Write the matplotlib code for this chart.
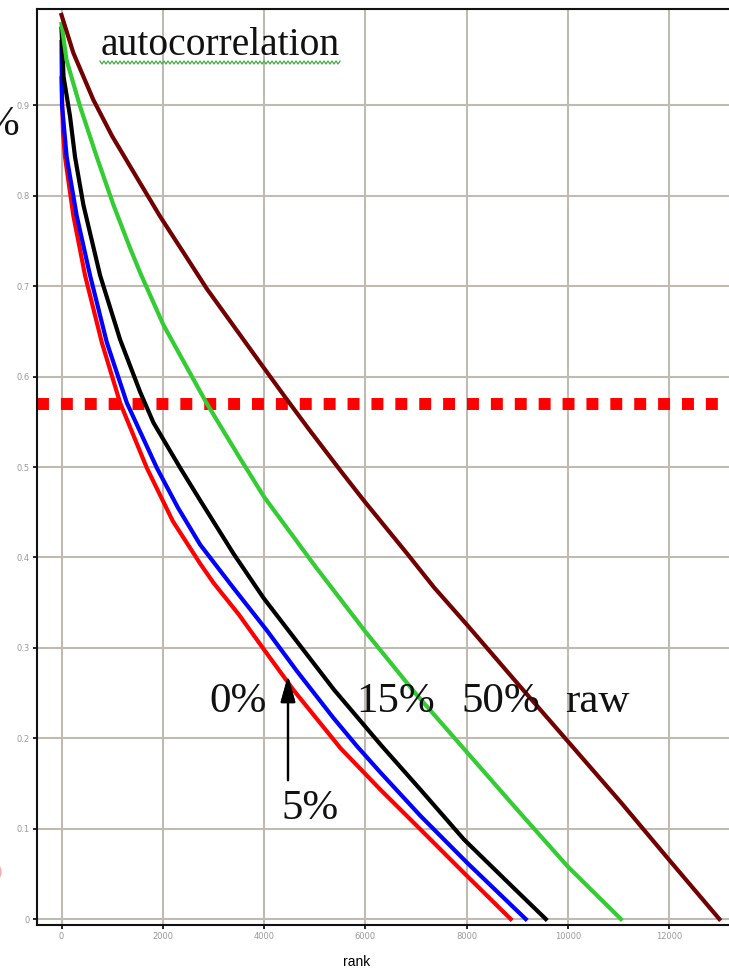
import matplotlib
matplotlib.use('Agg')
import matplotlib.pyplot as plt
from matplotlib.lines import Line2D
from matplotlib.patches import Ellipse
import numpy as np

# curves: rank vs value, one per autocorrelation level
rank_0 = [0, 30, 69, 234, 465, 795, 1157, 1685, 2200, 2740, 3000, 3500, 4000, 4586, 5510, 6301, 7092, 7949, 8872]
val_0 = [0.93, 0.87, 0.843, 0.778, 0.712, 0.638, 0.571, 0.499, 0.44, 0.393, 0.372, 0.337, 0.298, 0.253, 0.189, 0.143, 0.099, 0.051, 0.0]

rank_5 = [0, 10, 102, 300, 564, 894, 1290, 1883, 2300, 2740, 3399, 4059, 4653, 5377, 5839, 6301, 7092, 8016, 9169]
val_5 = [0.97, 0.90, 0.843, 0.778, 0.712, 0.638, 0.571, 0.499, 0.455, 0.414, 0.366, 0.319, 0.274, 0.222, 0.191, 0.162, 0.114, 0.062, 0.0]

rank_15 = [0, 40, 168, 267, 432, 762, 1157, 1553, 1816, 2344, 2740, 3399, 3992, 4718, 5377, 6301, 7092, 7949, 8938, 9565]
val_15 = [0.985, 0.932, 0.888, 0.843, 0.790, 0.712, 0.641, 0.583, 0.549, 0.499, 0.463, 0.404, 0.355, 0.302, 0.254, 0.193, 0.143, 0.088, 0.034, 0.0]

rank_50 = [0, 100, 366, 696, 1025, 1355, 1553, 2014, 2872, 3500, 4000, 5000, 6000, 7000, 8000, 9000, 10000, 11049]
val_50 = [0.99, 0.95, 0.899, 0.843, 0.790, 0.742, 0.715, 0.657, 0.570, 0.512, 0.467, 0.391, 0.318, 0.249, 0.185, 0.121, 0.058, 0.0]

rank_raw = [0, 234, 630, 1000, 1500, 1949, 2400, 2872, 3927, 4421, 4883, 5510, 5970, 6829, 7355, 8016, 8938, 9994, 11049, 12038, 12993]
val_raw = [1.0, 0.958, 0.906, 0.866, 0.819, 0.777, 0.738, 0.697, 0.615, 0.577, 0.542, 0.496, 0.463, 0.404, 0.367, 0.325, 0.265, 0.197, 0.129, 0.063, 0.0]

threshold = 0.57
x_ticks = [0, 2000, 4000, 6000, 8000, 10000, 12000]
y_ticks = [0, 0.1, 0.2, 0.3, 0.4, 0.5, 0.6, 0.7, 0.8, 0.9]
y_ticklabels = ['0', '0.1', '0.2', '0.3', '0.4', '0.5', '0.6', '0.7', '0.8', '0.9']

W, H = 729, 973


def px(x, y):
    # pixel position -> figure fraction
    return x / W, 1 - y / H


fig = plt.figure(figsize=(W / 100, H / 100), dpi=100)
fig.patch.set_facecolor('white')
ax = fig.add_axes([37 / W, 1 - 925 / H, 1 - 37 / W, (925 - 9) / H])

grid_col = '#bfbab2'
ax.grid(True, color=grid_col, lw=1.5, zorder=0)
ax.set_axisbelow(True)

ax.axhline(threshold, color='#ff0000', lw=8.6, dashes=(1, 1), zorder=2)

ax.plot(rank_0, val_0, color='#ff0000', lw=3, zorder=3)
ax.plot(rank_5, val_5, color='#0000ff', lw=3, zorder=3)
ax.plot(rank_15, val_15, color='black', lw=3, zorder=3)
ax.plot(rank_50, val_50, color='#33cc33', lw=3, zorder=3)
ax.plot(rank_raw, val_raw, color='#720000', lw=3, zorder=3)

ax.set_xlim(-484, 13184)
ax.set_ylim(-0.0066, 1.0066)
ax.set_xticks(x_ticks)
ax.set_xticklabels([str(t) for t in x_ticks])
ax.set_yticks(y_ticks)
ax.set_yticklabels(y_ticklabels)
ax.tick_params(axis='both', length=3, width=1.2, color='black',
               labelsize=6, labelcolor='#999999', pad=2)
for s in ['left', 'bottom', 'top']:
    ax.spines[s].set_linewidth(1.5)
    ax.spines[s].set_color('#111111')
ax.spines['right'].set_visible(False)

fig.text(*px(357, 962), 'rank', ha='center', va='center',
         fontsize=10, family='Liberation Sans', color='black')

serif = 'Liberation Serif'
fig.text(*px(101, 55), 'autocorrelation', ha='left', va='baseline',
         fontsize=28.5, family=serif, color='#111111')
wx = np.arange(100, 342, 2)
wy = np.where(np.arange(len(wx)) % 2 == 0, 61, 64)
fig.add_artist(Line2D(wx / W, 1 - wy / H, color='#44aa44', lw=0.9))

# cut-off sign at the left edge, as in the source slide
fig.text(*px(19, 135), '%', ha='right', va='baseline',
         fontsize=30, family=serif, color='#111111')

lab_kw = dict(va='baseline', ha='left', fontsize=31, family=serif, color='#111111')
fig.text(*px(209, 712), '0%', **lab_kw)
fig.text(*px(356, 712), '15%', **lab_kw)
fig.text(*px(461, 712), '50%', **lab_kw)
fig.text(*px(565, 712), 'raw', **lab_kw)
fig.text(*px(281, 819), '5%', **lab_kw)

fig.add_artist(plt.annotate('', xy=px(288, 673), xytext=px(288, 783),
                            xycoords='figure fraction', textcoords='figure fraction',
                            arrowprops=dict(arrowstyle='-|>,head_length=1.6,head_width=0.45',
                                            color='black', lw=1.6)))

fig.add_artist(Ellipse(px(-7, 872), 16 / W, 20 / H, transform=fig.transFigure,
                       color='#ff8888', alpha=0.5))

fig.savefig('out.png', dpi=100)
